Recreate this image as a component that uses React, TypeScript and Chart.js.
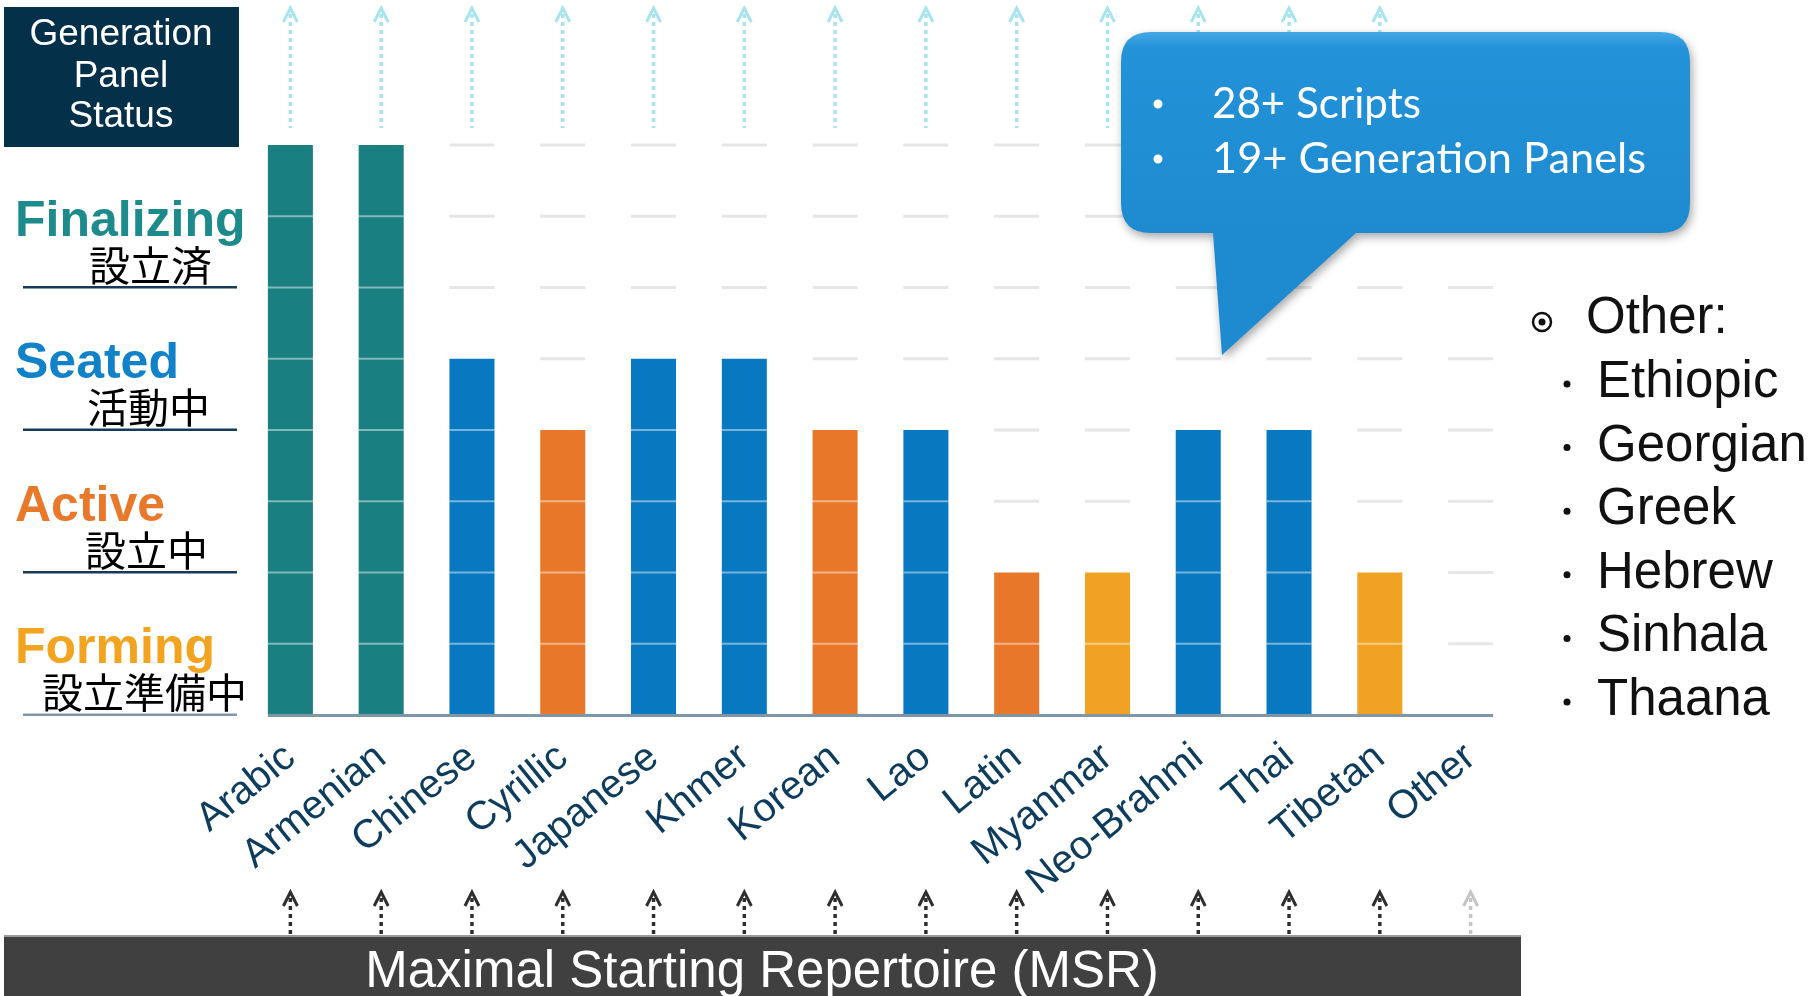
import React, { useEffect, useRef } from "react";
import { Chart, registerables } from "chart.js";

Chart.register(...registerables);

// ---------- data ----------
const categories = [
  "Arabic", "Armenian", "Chinese", "Cyrillic", "Japanese", "Khmer", "Korean",
  "Lao", "Latin", "Myanmar", "Neo-Brahmi", "Thai", "Tibetan", "Other",
];
const stageValues = [8, 8, 5, 4, 5, 5, 4, 4, 2, 2, 4, 4, 2, 0];
const panelStatus = [
  "Finalizing", "Finalizing", "Seated", "Active", "Seated", "Seated", "Active",
  "Seated", "Active", "Forming", "Seated", "Seated", "Forming", "None",
];
const statusColors: Record<string, string> = {
  Finalizing: "#1a7f80",
  Seated: "#0878c0",
  Active: "#e8772a",
  Forming: "#f0a323",
  None: "rgba(0,0,0,0)",
};
const yLevels = [0, 1, 2, 3, 4, 5, 6, 7, 8];
const statusNames = ["Finalizing", "Seated", "Active", "Forming"];
const statusNamesJa = ["設立済", "活動中", "設立中", "設立準備中"];
const statusLevels = [6, 4, 2, 0];
const statusTextColors = ["#1d8a8b", "#1282c8", "#e8782a", "#f2a31f"];
const panelTitle = ["Generation", "Panel", "Status"];
const calloutLines = ["28+ Scripts", "19+ Generation Panels"];
const otherHeading = "Other:";
const otherScripts = ["Ethiopic", "Georgian", "Greek", "Hebrew", "Sinhala", "Thaana"];
const msrTitle = "Maximal Starting Repertoire (MSR)";

const SANS = "'Liberation Sans', Arial, sans-serif";

function fitText(ctx: CanvasRenderingContext2D, text: string, x: number, y: number, width: number) {
  const m = ctx.measureText(text).width;
  const s = width / m;
  ctx.save();
  ctx.translate(x, y);
  ctx.scale(s, 1);
  ctx.fillText(text, 0, 0);
  ctx.restore();
}

function chevron(ctx: CanvasRenderingContext2D, cx: number, tip: number, color: string, bottom: number) {
  ctx.save();
  ctx.strokeStyle = color;
  ctx.lineWidth = 3;
  ctx.setLineDash([]);
  ctx.beginPath();
  ctx.moveTo(cx - 7, tip + 14);
  ctx.lineTo(cx, tip);
  ctx.lineTo(cx + 7, tip + 14);
  ctx.stroke();
  ctx.lineWidth = 3.5;
  ctx.setLineDash([4, 4]);
  ctx.beginPath();
  ctx.moveTo(cx, tip + 6);
  ctx.lineTo(cx, bottom);
  ctx.stroke();
  ctx.restore();
}

const decorPlugin = {
  id: "decor",
  beforeDatasetsDraw(chart: any) {
    const ctx = chart.ctx as CanvasRenderingContext2D;
    const y = chart.scales.y;
    const meta = chart.getDatasetMeta(0);
    ctx.save();
    ctx.fillStyle = "#e6e6e6";
    meta.data.forEach((bar: any, i: number) => {
      const { x: cx, width } = bar.getProps(["x", "width"], true);
      yLevels.forEach((k) => {
        if (k > stageValues[i]) {
          const py = y.getPixelForValue(k);
          ctx.fillRect(cx - width / 2, py - 1.5, width, 3);
        }
      });
    });
    ctx.restore();
  },
  afterDatasetsDraw(chart: any) {
    const ctx = chart.ctx as CanvasRenderingContext2D;
    const y = chart.scales.y;
    const meta = chart.getDatasetMeta(0);
    ctx.save();
    ctx.fillStyle = "rgba(255,255,255,0.45)";
    meta.data.forEach((bar: any, i: number) => {
      const { x: cx, width } = bar.getProps(["x", "width"], true);
      yLevels.forEach((k) => {
        if (k > 0 && k < stageValues[i]) {
          const py = y.getPixelForValue(k);
          ctx.fillRect(cx - width / 2, py - 1, width, 2);
        }
      });
    });
    // baseline
    const first = meta.data[0].getProps(["x", "width"], true);
    const last = meta.data[meta.data.length - 1].getProps(["x", "width"], true);
    const by = y.getPixelForValue(0);
    ctx.fillStyle = "#7f95a8";
    ctx.fillRect(first.x - first.width / 2, by - 1, last.x + last.width / 2 - (first.x - first.width / 2), 3);
    ctx.restore();
  },
  afterDraw(chart: any) {
    const ctx = chart.ctx as CanvasRenderingContext2D;
    const xs = chart.scales.x;
    const y = chart.scales.y;
    ctx.save();

    // top-left panel title box
    ctx.fillStyle = "#04304a";
    ctx.fillRect(4, 7, 235, 140);
    ctx.fillStyle = "#ffffff";
    ctx.font = `37px ${SANS}`;
    ctx.textAlign = "center";
    ctx.textBaseline = "alphabetic";
    [45, 87, 127].forEach((by, i) => ctx.fillText(panelTitle[i], 121, by));

    // status labels on the left
    statusNames.forEach((name, i) => {
      const ly = y.getPixelForValue(statusLevels[i]);
      ctx.textAlign = "left";
      ctx.font = `bold 50px ${SANS}`;
      ctx.fillStyle = statusTextColors[i];
      ctx.fillText(name, 15, ly - 52);
      ctx.font = `41px 'Noto Sans CJK JP', sans-serif`;
      ctx.fillStyle = "#000000";
      const jx = [89, 87, 85, 42][i];
      ctx.fillText(statusNamesJa[i], jx, ly - 7);
      ctx.fillStyle = i === 3 ? "#8196a8" : "#163a58";
      ctx.fillRect(23, ly - 1.5, 214, 2.5);
    });

    // arrows
    categories.forEach((c, i) => {
      const cx = xs.getPixelForValue(i);
      if (stageValues[i] > 0) chevron(ctx, cx, 8, "#a8e4ee", 128);
      chevron(ctx, cx, 892, stageValues[i] > 0 ? "#2e2e2e" : "#c4c4c4", 934);
    });

    // MSR band
    ctx.fillStyle = "#404040";
    ctx.fillRect(4, 935, 1517, 61);
    ctx.fillStyle = "#9a9a9a";
    ctx.fillRect(4, 935, 1517, 2);
    ctx.fillStyle = "#ffffff";
    ctx.font = `51px ${SANS}`;
    ctx.textAlign = "center";
    ctx.fillText(msrTitle, 762, 987);

    // callout
    const L = 1121, T = 32, R = 1690, B = 233, r = 30;
    ctx.save();
    ctx.shadowColor = "rgba(0,0,0,0.35)";
    ctx.shadowBlur = 10;
    ctx.shadowOffsetX = 2;
    ctx.shadowOffsetY = 4;
    const g = ctx.createLinearGradient(0, T, 0, B);
    g.addColorStop(0, "#45a8e6");
    g.addColorStop(0.08, "#2392d8");
    g.addColorStop(1, "#1e8bd0");
    ctx.fillStyle = g;
    ctx.beginPath();
    ctx.moveTo(L + r, T);
    ctx.lineTo(R - r, T);
    ctx.quadraticCurveTo(R, T, R, T + r);
    ctx.lineTo(R, B - r);
    ctx.quadraticCurveTo(R, B, R - r, B);
    ctx.lineTo(1356, B);
    ctx.lineTo(1222, 355);
    ctx.lineTo(1213, B);
    ctx.lineTo(L + r, B);
    ctx.quadraticCurveTo(L, B, L, B - r);
    ctx.lineTo(L, T + r);
    ctx.quadraticCurveTo(L, T, L + r, T);
    ctx.closePath();
    ctx.fill();
    ctx.restore();

    ctx.fillStyle = "#ffffff";
    ctx.textAlign = "left";
    ctx.font = `42px Lato, 'Open Sans', sans-serif`;
    fitText(ctx, calloutLines[0], 1212, 118, 209);
    fitText(ctx, calloutLines[1], 1212, 173, 434);
    ctx.beginPath();
    ctx.arc(1158, 104, 4.5, 0, Math.PI * 2);
    ctx.arc(1158, 159, 4.5, 0, Math.PI * 2);
    ctx.fill();

    // Other list
    ctx.fillStyle = "#111111";
    ctx.strokeStyle = "#111111";
    ctx.font = `51px ${SANS}`;
    ctx.fillText(otherHeading, 1586, 333);
    ctx.lineWidth = 2.5;
    ctx.beginPath();
    ctx.arc(1542, 322, 9, 0, Math.PI * 2);
    ctx.stroke();
    ctx.beginPath();
    ctx.arc(1542, 322, 3.5, 0, Math.PI * 2);
    ctx.fill();
    otherScripts.forEach((s, i) => {
      const by = 397 + i * 63.6;
      ctx.fillText(s, 1597, by);
      ctx.beginPath();
      ctx.arc(1567, by - 13, 3.5, 0, Math.PI * 2);
      ctx.fill();
    });

    ctx.restore();
  },
};

export default function App() {
  const canvasRef = useRef<HTMLCanvasElement | null>(null);

  useEffect(() => {
    if (!canvasRef.current) return;
    const chart = new Chart(canvasRef.current, {
      type: "bar",
      data: {
        labels: categories,
        datasets: [
          {
            data: stageValues,
            backgroundColor: panelStatus.map((s) => statusColors[s]),
            borderWidth: 0,
            barPercentage: 0.496,
            categoryPercentage: 1,
          },
        ],
      },
      options: {
        responsive: false,
        devicePixelRatio: 1,
        animation: false,
        events: [],
        layout: { padding: { left: 245, right: 304, top: 145, bottom: 0 } },
        plugins: { legend: { display: false }, tooltip: { enabled: false } },
        scales: {
          x: {
            grid: { display: false, drawTicks: false },
            border: { display: false },
            ticks: {
              autoSkip: false,
              minRotation: 39,
              maxRotation: 39,
              padding: 19,
              color: "#0e3c5c",
              font: { family: SANS, size: 40 },
            },
            afterFit: (scale: any) => {
              scale.height = 281;
            },
          },
          y: {
            display: false,
            min: 0,
            max: 8,
          },
        },
      },
      plugins: [decorPlugin],
    });
    return () => chart.destroy();
  }, []);

  return (
    <div style={{ position: "fixed", left: 0, top: 0, width: 1820, height: 996, background: "#fff" }}>
      <canvas ref={canvasRef} width={1820} height={996} style={{ display: "block" }} />
    </div>
  );
}
